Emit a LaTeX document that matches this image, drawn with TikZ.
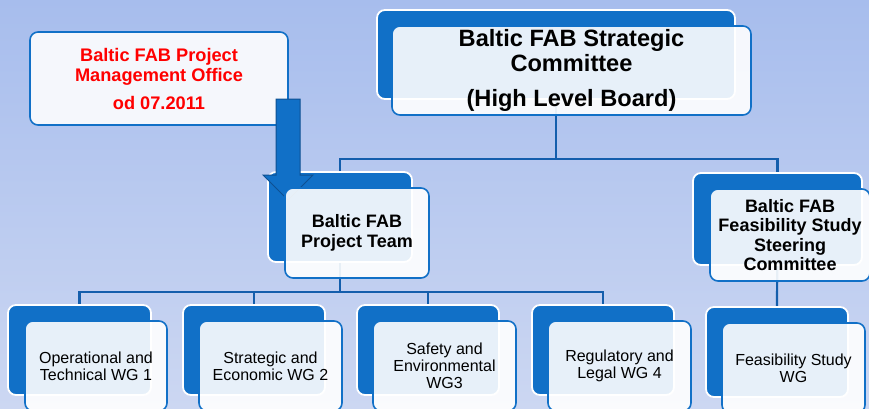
\documentclass[tikz,border=0pt]{standalone}
\usepackage{fontspec}
\setmainfont{Liberation Sans}
\usepackage{xcolor}
\usepackage{tikz}
\usetikzlibrary{arrows.meta, positioning, calc, backgrounds}
\definecolor{bgtop}{RGB}{167,189,237}
\definecolor{bgbot}{RGB}{204,215,242}
\definecolor{fabblue}{RGB}{17,112,199}
\definecolor{linkblue}{RGB}{20,94,172}
\definecolor{arrowedge}{RGB}{14,80,146}
\definecolor{paper}{RGB}{245,247,252}

\begin{document}
\begin{tikzpicture}[
    x=1pt, y=-1pt,
    back/.style={rectangle, rounded corners=8pt, draw=white, line width=1.8pt,
                 fill=fabblue, inner sep=0pt},
    front/.style={rectangle, rounded corners=8pt, draw=fabblue, line width=1.6pt,
                  fill=white, fill opacity=0.9, text opacity=1, draw opacity=1,
                  inner sep=0pt, align=center},
    headtxt/.style={font=\fontsize{18}{19.5}\selectfont\bfseries},
    wgtxt/.style={font=\fontsize{16}{16.8}\selectfont},
    link/.style={draw=linkblue, line width=2.2pt}
]
\useasboundingbox (0,0) rectangle (869,408);
\begin{scope}[on background layer]
\shade[top color=bgtop, bottom color=bgbot] (0,0) rectangle (869,408);
\end{scope}

% office box on the left
\node[rectangle, rounded corners=8pt, draw=fabblue, line width=1.6pt, fill=paper,
      minimum width=258pt, minimum height=93pt, align=center, text=red,
      font=\fontsize{18.2}{20}\selectfont\bfseries]
      (pmo) at (159,78.5) {Baltic FAB Project\\Management Office\\[8pt]od 07.2011};

% dark back plates
\node[back, minimum width=358pt, minimum height=89pt] (hlb-b) at (556,54.5) {};
\node[back, minimum width=144pt, minimum height=90pt] (team-b) at (340,217) {};
\node[back, minimum width=169pt, minimum height=92pt] (fss-b) at (777.5,219) {};
\node[back, minimum width=143pt, minimum height=90pt] (wg1-b) at (79.5,350) {};
\node[back, minimum width=142pt, minimum height=90pt] (wg2-b) at (254,350) {};
\node[back, minimum width=142pt, minimum height=90pt] (wg3-b) at (428,350) {};
\node[back, minimum width=142pt, minimum height=90pt] (wg4-b) at (603,350) {};
\node[back, minimum width=142pt, minimum height=90pt] (fwg-b) at (777,352) {};

% tree lines, kept behind everything
\coordinate (bus1) at (556,159);
\coordinate (bus2) at (340,292);
\begin{scope}[on background layer]
\draw[link] (hlb-b.center) -- (bus1);
\draw[link] (bus1) -| (team-b.north);
\draw[link] (bus1) -| (fss-b.north);
\draw[link] (team-b.center) -- (bus2);
\draw[link] (bus2) -| (wg1-b.north);
\draw[link] (bus2) -| (wg2-b.north);
\draw[link] (bus2) -| (wg3-b.north);
\draw[link] (bus2) -| (wg4-b.north);
\draw[link] (fss-b.center) -- (fwg-b.north);
\end{scope}

% big arrow from the office down to the team
\draw[fill=fabblue, draw=arrowedge, line width=1pt, line join=miter]
  (276,99) -- (300,99) -- (300,175) -- (313,175) -- (288,200)
  -- (263,175) -- (276,175) -- cycle;

% front boxes with the texts
\node[front, minimum width=359pt, minimum height=89pt,
      font=\fontsize{23.6}{25}\selectfont\bfseries]
      (hlb) at (571.5,70.5) {Baltic FAB Strategic\\Committee\\[10pt](High Level Board)};
\node[front, headtxt, minimum width=144pt, minimum height=90pt]
      (team) at (357,233) {Baltic FAB\\Project Team};
\node[front, headtxt, minimum width=160pt, minimum height=92pt]
      (fss) at (790,235) {Baltic FAB\\Feasibility Study\\Steering\\Committee};
\node[front, wgtxt, minimum width=142pt, minimum height=90pt]
      (wg1) at (96,366) {Operational and\\Technical WG 1};
\node[front, wgtxt, minimum width=143pt, minimum height=90pt]
      (wg2) at (270.5,366) {Strategic and\\Economic WG 2};
\node[front, wgtxt, minimum width=143pt, minimum height=90pt]
      (wg3) at (444.5,366) {Safety and\\Environmental\\WG3};
\node[front, wgtxt, minimum width=143pt, minimum height=90pt]
      (wg4) at (619.5,366) {Regulatory and\\Legal WG 4};
\node[front, wgtxt, minimum width=143pt, minimum height=90pt]
      (fwg) at (793.5,368) {Feasibility Study\\WG};
\end{tikzpicture}
\end{document}
